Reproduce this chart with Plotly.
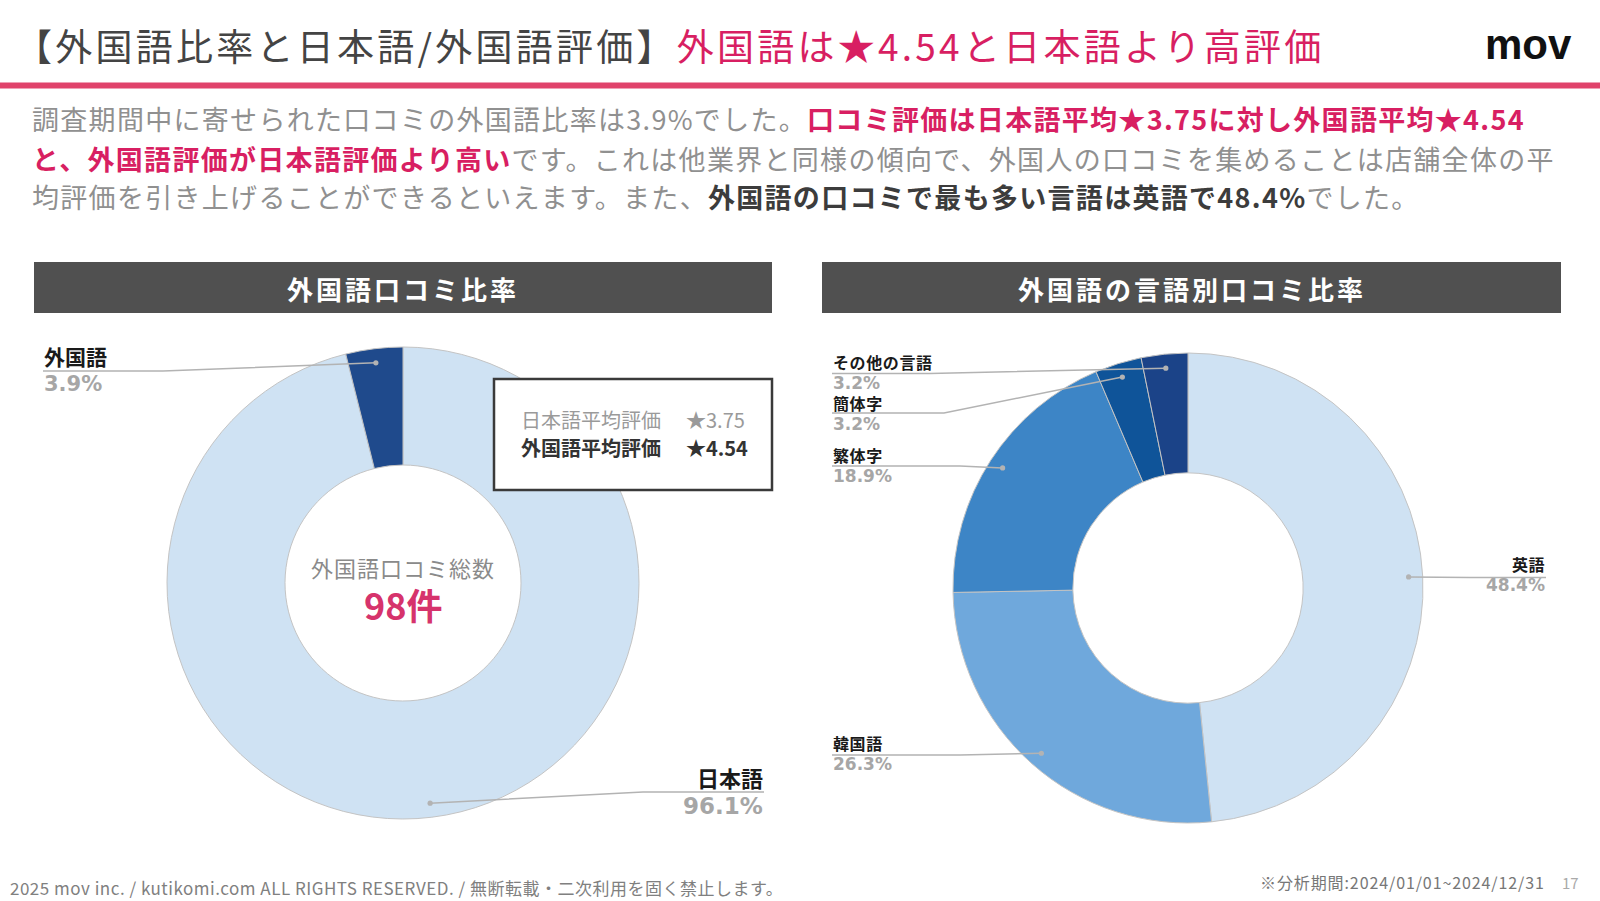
import math
import plotly.graph_objects as go

W, H = 1600, 901

# ---------------- data ----------------
share_labels = ["日本語", "外国語"]
share_values = [96.1, 3.9]
share_colors = ["#CFE2F3", "#1F4A8C"]

lang_labels = ["英語", "韓国語", "繁体字", "簡体字", "その他の言語"]
lang_values = [48.4, 26.3, 18.9, 3.2, 3.2]
lang_colors = ["#CFE2F3", "#6FA8DC", "#3D85C6", "#0F5499", "#1B4388"]

total_foreign = 98
rating_labels = ["日本語平均評価", "外国語平均評価"]
rating_values = [3.75, 4.54]

# ---------------- helpers ----------------
def px(x):
    return x / W


def py(y):
    return 1 - y / H


def domain(cx, cy, r):
    return dict(x=[px(cx - r), px(cx + r)], y=[py(cy + r), py(cy - r)])


def mid_points(values, cx, cy, rd):
    """clockwise from 12 o'clock"""
    tot = sum(values)
    out = []
    acc = 0
    for v in values:
        a = math.radians(360 * (acc + v / 2) / tot)
        out.append((cx + rd * math.sin(a), cy - rd * math.cos(a)))
        acc += v
    return out


PINK = "#D81F62"
JP = "Noto Sans CJK JP"
PCT = "DejaVu Sans"

fig = go.Figure()

# left donut
L_CX, L_CY, L_R = 403, 583, 236
fig.add_trace(go.Pie(
    labels=share_labels, values=share_values, sort=False,
    direction="clockwise", rotation=0, hole=0.5,
    marker=dict(colors=share_colors, line=dict(color="#c4c4c4", width=1)),
    textinfo="none", hoverinfo="skip", showlegend=False,
    domain=domain(L_CX, L_CY, L_R),
))

# right donut
R_CX, R_CY, R_R = 1188, 588, 235
fig.add_trace(go.Pie(
    labels=lang_labels, values=lang_values, sort=False,
    direction="clockwise", rotation=0, hole=0.49,
    marker=dict(colors=lang_colors, line=dict(color="#c4c4c4", width=1)),
    textinfo="none", hoverinfo="skip", showlegend=False,
    domain=domain(R_CX, R_CY, R_R),
))

shapes = []
annotations = []


def ann(x, y, text, size, color, xanchor="left", family=JP, yanchor="middle"):
    annotations.append(dict(
        x=px(x), y=py(y), xref="paper", yref="paper", text=text,
        showarrow=False, xanchor=xanchor, yanchor=yanchor, borderpad=0,
        font=dict(size=size, color=color, family=family),
    ))


def rect(x0, y0, x1, y1, fill, line_color=None, lw=0):
    shapes.append(dict(
        type="rect", xref="paper", yref="paper",
        x0=px(x0), x1=px(x1), y0=py(y1), y1=py(y0),
        fillcolor=fill, layer="above",
        line=dict(color=line_color or fill, width=lw),
    ))


def leader(points):
    d = "M " + " L ".join(f"{px(x)},{py(y)}" for x, y in points)
    shapes.append(dict(type="path", xref="paper", yref="paper", path=d,
                       line=dict(color="#b3b3b3", width=1.5), layer="above"))
    x, y = points[-1]
    r = 2.6
    shapes.append(dict(type="circle", xref="paper", yref="paper",
                       x0=px(x - r), x1=px(x + r), y0=py(y + r), y1=py(y - r),
                       fillcolor="#b3b3b3", line=dict(width=0), layer="above"))


# ---------------- header ----------------
sp = "letter-spacing:3.25px"
ann(14, 45,
    f"<span style='{sp}'>【外国語比率と日本語/外国語評価】</span>"
    f"<span style='{sp};color:{PINK}'>外国語は★{rating_values[1]:.2f}と日本語より高評価</span>",
    37, "#444444")
ann(1528, 44, "<b>mov</b>", 42, "#111111", xanchor="center", family="Liberation Sans")
rect(0, 82.5, W, 88.5, "#E0436B")

# ---------------- body text ----------------
bs = "letter-spacing:1.3px"
GRAY = "#909090"
ann(31, 119,
    f"<span style='{bs}'>調査期間中に寄せられた口コミの外国語比率は{share_values[1]}%でした。</span>"
    f"<span style='{bs};color:{PINK}'><b>口コミ評価は日本語平均★{rating_values[0]:.2f}に対し外国語平均★{rating_values[1]:.2f}</b></span>",
    27, GRAY)
ann(31, 158,
    f"<span style='{bs};color:{PINK}'><b>と、外国語評価が日本語評価より高い</b></span>"
    f"<span style='{bs}'>です。これは他業界と同様の傾向で、外国人の口コミを集めることは店舗全体の平</span>",
    27, GRAY)
ann(31, 196,
    f"<span style='{bs}'>均評価を引き上げることができるといえます。また、</span>"
    f"<span style='{bs};color:#3c3c3c'><b>外国語の口コミで最も多い言語は英語で{lang_values[0]}%</b></span>"
    f"<span style='{bs}'>でした。</span>",
    27, GRAY)

# ---------------- section headers ----------------
rect(34, 262, 772, 313, "#505050")
rect(822, 262, 1561, 313, "#505050")
hs = "letter-spacing:3px"
ann(403, 288, f"<span style='{hs}'><b>外国語口コミ比率</b></span>", 26, "#ffffff", xanchor="center")
ann(1192, 288, f"<span style='{hs}'><b>外国語の言語別口コミ比率</b></span>", 26, "#ffffff", xanchor="center")

# ---------------- left donut labels ----------------
ann(403, 567, "<span style='letter-spacing:1px'>外国語口コミ総数</span>", 22, "#8a8a8a", xanchor="center")
ann(403, 604, f"<b>{total_foreign}件</b>", 36, "#D6336C", xanchor="center")

lpts = dict(zip(share_labels, mid_points(share_values, L_CX, L_CY, L_R * 0.94)))
# 外国語 (left side)
ann(43, 356, "<b>外国語</b>", 21, "#1a1a1a")
ann(43, 384, f"<b>{share_values[1]}%</b>", 21, "#a6a6a6", family=PCT)
leader([(43, 371), (163, 371), lpts["外国語"]])
# 日本語 (right side)
ann(764, 777, "<b>日本語</b>", 22, "#1a1a1a", xanchor="right")
ann(764, 806, f"<b>{share_values[0]}%</b>", 23, "#a6a6a6", xanchor="right", family=PCT)
leader([(764, 792), (643, 792), lpts["日本語"]])

# rating box
rect(494, 379, 772, 490, "#ffffff", "#3a3a3a", 2.5)
ann(520, 419, rating_labels[0], 20, "#9a9a9a")
ann(685, 419, f"★{rating_values[0]:.2f}", 20, "#9a9a9a")
ann(520, 448, f"<b>{rating_labels[1]}</b>", 20, "#333333")
ann(685, 448, f"<b>★{rating_values[1]:.2f}</b>", 20, "#333333")

# ---------------- right donut labels ----------------
rpts = mid_points(lang_values, R_CX, R_CY, R_R * 0.94)
label_pos = {
    # name: (x, name_y, line_y, elbow_x, anchor)
    "英語": (1546, 564, 577.5, 1470, "right"),
    "韓国語": (832, 743, 755, 960, "left"),
    "繁体字": (832, 455, 466, 960, "left"),
    "簡体字": (832, 403, 413, 944, "left"),
    "その他の言語": (832, 362, 373.5, 930, "left"),
}
for i, name in enumerate(lang_labels):
    x, ny, ly, ex, anc = label_pos[name]
    ann(x, ny, f"<span style='letter-spacing:0.6px'><b>{name}</b></span>", 16, "#1a1a1a", xanchor=anc)
    ann(x, ny + 21, f"<b>{lang_values[i]}%</b>", 17, "#a6a6a6", xanchor=anc, family=PCT)
    leader([(x, ly), (ex, ly), rpts[i]])

# ---------------- footer ----------------
ann(9, 887, "<span style='letter-spacing:0.5px'>2025 mov inc. / kutikomi.com ALL RIGHTS RESERVED. / 無断転載・二次利用を固く禁止します。</span>",
    17, "#808080")
ann(1546, 882, "<span style='letter-spacing:0.9px'>※分析期間:2024/01/01~2024/12/31</span>", 16, "#777777", xanchor="right")
ann(1570, 882, "17", 15, "#aaaaaa", xanchor="center")

fig.update_layout(
    width=W, height=H, autosize=False,
    margin=dict(l=0, r=0, t=0, b=0),
    paper_bgcolor="#ffffff", plot_bgcolor="#ffffff",
    shapes=shapes, annotations=annotations,
    font=dict(family=JP),
)

fig.write_html("out.html", config={"displayModeBar": False},
               post_script="document.body.style.margin='0';document.body.style.overflow='hidden';")
